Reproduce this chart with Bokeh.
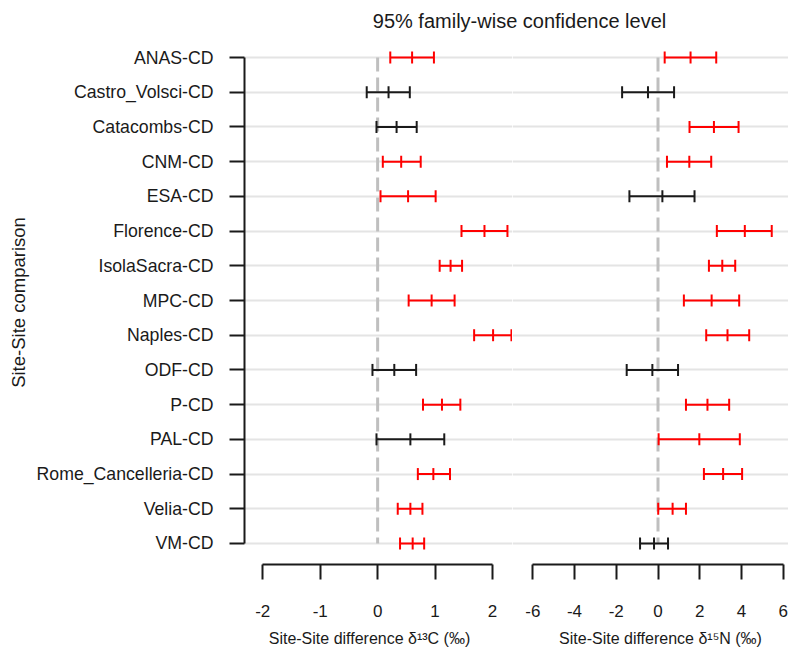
import math
from bokeh.plotting import figure
from bokeh.layouts import column, row
from bokeh.models import Range1d, FixedTicker, ColumnDataSource, Label, LinearAxis, Grid
from bokeh.embed import file_html
from bokeh.resources import INLINE

# ---------------- data ----------------
comparisons = ["ANAS-CD", "Castro_Volsci-CD", "Catacombs-CD", "CNM-CD", "ESA-CD",
               "Florence-CD", "IsolaSacra-CD", "MPC-CD", "Naples-CD", "ODF-CD",
               "P-CD", "PAL-CD", "Rome_Cancelleria-CD", "Velia-CD", "VM-CD"]

c13_lwr = [0.22, -0.19, -0.02, 0.09, 0.05, 1.46, 1.08, 0.54, 1.68, -0.09, 0.79, -0.02, 0.70, 0.35, 0.39]
c13_est = [0.60, 0.19, 0.33, 0.41, 0.53, 1.86, 1.27, 0.94, 2.01, 0.29, 1.12, 0.57, 0.97, 0.57, 0.61]
c13_upr = [0.98, 0.56, 0.68, 0.75, 1.01, 2.26, 1.47, 1.34, 2.33, 0.67, 1.44, 1.16, 1.26, 0.78, 0.81]

n15_lwr = [0.32, -1.72, 1.51, 0.43, -1.37, 2.82, 2.44, 1.24, 2.31, -1.50, 1.34, 0.03, 2.20, 0.01, -0.86]
n15_est = [1.56, -0.48, 2.68, 1.50, 0.21, 4.16, 3.08, 2.57, 3.33, -0.27, 2.37, 1.98, 3.12, 0.70, -0.19]
n15_upr = [2.79, 0.77, 3.86, 2.55, 1.75, 5.45, 3.70, 3.89, 4.37, 0.96, 3.41, 3.92, 4.03, 1.34, 0.48]

c13_ticks = [-2, -1, 0, 1, 2]
c13_tick_labels = ["-2", "-1", "0", "1", "2"]
n15_ticks = [-6, -4, -2, 0, 2, 4, 6]
n15_tick_labels = ["-6", "-4", "-2", "0", "2", "4", "6"]

title_text = "95% family-wise confidence level"
y_title = "Site-Site comparison"
c13_title = "Site-Site difference \u03b4\u00b9\u00b3C (\u2030)"
n15_title = "Site-Site difference \u03b4\u00b9\u2075N (\u2030)"

# ---------------- style ----------------
FONT = "Liberation Sans"
INK = "#1a1a1a"
SIG = "#ff0000"
n = len(comparisons)
idx = list(range(n))

TOP_H = 40
STRIP_H = 25
PANEL_H = 651 - TOP_H - STRIP_H
BORDER_B = PANEL_H - 524
y_range_args = dict(start=(n - 1) + 0.605, end=-0.49)


def make_panel(width, xr, lwr, est, upr, ticks, tick_labels, with_y, border_left):
    p = figure(width=width, height=PANEL_H,
               x_range=Range1d(*xr), y_range=Range1d(**y_range_args),
               x_axis_location=None, y_axis_location=None,
               output_backend="svg", toolbar_location=None,
               min_border_top=0, min_border_bottom=BORDER_B,
               min_border_left=border_left, min_border_right=0)
    p.outline_line_color = None
    p.background_fill_color = "white"
    p.border_fill_color = "white"
    for g in p.grid:
        g.visible = False

    grid = Grid(dimension=1, ticker=FixedTicker(ticks=idx),
                grid_line_color="#e4e4e4", grid_line_width=2)
    p.add_layout(grid)

    xa = LinearAxis(ticker=FixedTicker(ticks=ticks), bounds=(min(ticks), max(ticks)),
                    major_label_overrides=dict(zip(ticks, tick_labels)))
    xa.axis_line_color = INK
    xa.axis_line_width = 2
    xa.major_tick_line_color = INK
    xa.major_tick_line_width = 2
    xa.major_tick_out = 15
    xa.major_tick_in = 0
    xa.minor_tick_out = 0
    xa.minor_tick_in = 0
    xa.major_label_standoff = 25
    xa.major_label_text_font = FONT
    xa.major_label_text_font_size = "17px"
    xa.major_label_text_color = INK
    p.add_layout(xa, "below")

    if with_y:
        ya = LinearAxis(ticker=FixedTicker(ticks=idx), bounds=(0, n - 1),
                        major_label_overrides={i: c for i, c in enumerate(comparisons)},
                        axis_label=y_title)
        ya.axis_line_color = INK
        ya.axis_line_width = 2
        ya.major_tick_line_color = INK
        ya.major_tick_line_width = 2
        ya.major_tick_out = 15
        ya.major_tick_in = 0
        ya.minor_tick_out = 0
        ya.minor_tick_in = 0
        ya.major_label_standoff = 16
        ya.major_label_text_font = FONT
        ya.major_label_text_font_size = "17.7px"
        ya.major_label_text_color = INK
        ya.axis_label_text_font = FONT
        ya.axis_label_text_font_size = "18.5px"
        ya.axis_label_text_font_style = "normal"
        ya.axis_label_text_color = INK
        ya.axis_label_standoff = 5
        p.add_layout(ya, "left")

    # reference line at zero spanning the comparisons
    p.segment(x0=[0], y0=[0], x1=[0], y1=[n - 1], line_color="#bfbfbf",
              line_width=3, line_dash="14 6")

    colors = [SIG if (lo > 0 or hi < 0) else INK for lo, hi in zip(lwr, upr)]
    src = ColumnDataSource(dict(y=idx, lwr=lwr, est=est, upr=upr, color=colors))
    p.segment(x0="lwr", y0="y", x1="upr", y1="y", line_color="color",
              line_width=2, source=src)
    for col in ("lwr", "est", "upr"):
        p.scatter(x=col, y="y", marker="dash", size=12, angle=math.pi / 2,
                  line_color="color", line_width=2, source=src)
    return p


def text_strip(height, labels, size):
    f = figure(width=788, height=height, x_range=Range1d(0, 788), y_range=Range1d(0, height),
               x_axis_location=None, y_axis_location=None, min_border=0,
               output_backend="svg", toolbar_location=None)
    f.outline_line_color = None
    for g in f.grid:
        g.visible = False
    for (x, y, t) in labels:
        f.add_layout(Label(x=x, y=y, text=t, text_align="center",
                           text_baseline="middle", text_font=FONT,
                           text_font_size=size, text_color=INK))
    return f


left = make_panel(512, (-2.318, 2.348), c13_lwr, c13_est, c13_upr,
                  c13_ticks, c13_tick_labels, True, 244)
right = make_panel(276, (-6.972, 6.253), n15_lwr, n15_est, n15_upr,
                   n15_ticks, n15_tick_labels, False, 0)

top = text_strip(TOP_H, [(519, 20, title_text)], "20px")
bottom = text_strip(STRIP_H, [(369, 13, c13_title), (660, 13, n15_title)], "16px")

layout = column(top, row(left, right, spacing=0), bottom, spacing=0)

with open("out.html", "w") as f:
    f.write(file_html(layout, INLINE))
